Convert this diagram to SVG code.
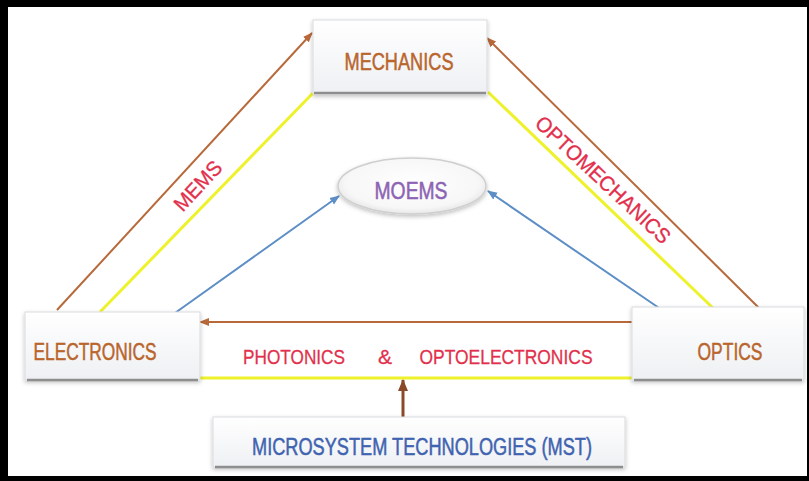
<svg xmlns="http://www.w3.org/2000/svg" width="809" height="481" viewBox="0 0 809 481">
<style>
.box{fill:url(#boxg);stroke:#d9dbdf;stroke-width:1}
.base{stroke:#8e8e8e;stroke-width:2.5}
.node{font-family:"Liberation Sans",Arial,sans-serif;font-size:23px;text-anchor:middle;stroke-width:0.5}
.brn{fill:#b9652c;stroke:#b9652c}
.lbl{font-family:"Liberation Sans",Arial,sans-serif;font-size:21px;text-anchor:middle;fill:#e2304c;stroke:#e2304c;stroke-width:0.3}
.c-brown{stroke:#b7693a;stroke-width:2;fill:none}
.c-yellow{stroke:#eef22a;stroke-width:3;fill:none}
.c-blue{stroke:#5d8ec6;stroke-width:2;fill:none}
</style>
<defs>
<linearGradient id="boxg" x1="0" y1="0" x2="0" y2="1">
<stop offset="0" stop-color="#ffffff"/>
<stop offset="1" stop-color="#eef0f3"/>
</linearGradient>
<radialGradient id="ellg" cx="0.5" cy="0.45" r="0.6">
<stop offset="0" stop-color="#ffffff"/>
<stop offset="0.75" stop-color="#f7f7f7"/>
<stop offset="1" stop-color="#dedede"/>
</radialGradient>
<filter id="sh" x="-10%" y="-20%" width="120%" height="150%">
<feDropShadow dx="0" dy="2" stdDeviation="2" flood-color="#000" flood-opacity="0.25"/>
</filter>
<marker id="ab" markerUnits="userSpaceOnUse" markerWidth="10" markerHeight="10" refX="9" refY="5" orient="auto">
<path d="M0,1 L10,5 L0,9 Z" fill="#b7693a"/>
</marker>
<marker id="abl" markerUnits="userSpaceOnUse" markerWidth="10" markerHeight="10" refX="9" refY="5" orient="auto">
<path d="M0,1 L10,5 L0,9 Z" fill="#5d8ec6"/>
</marker>
<marker id="ab2" markerUnits="userSpaceOnUse" markerWidth="12" markerHeight="12" refX="11" refY="6" orient="auto">
<path d="M0,1 L12,6 L0,11 Z" fill="#8a4a2a"/>
</marker>
</defs>

<rect x="0" y="0" width="809" height="481" fill="#000"/>
<rect x="8" y="7" width="799" height="469" fill="#fff"/>

<g id="connectors">
<line class="c-brown" x1="57" y1="310" x2="312" y2="33" marker-end="url(#ab)"/>
<line class="c-yellow" x1="100" y1="312" x2="313" y2="93"/>
<line class="c-brown" x1="759" y1="308" x2="487" y2="38" marker-end="url(#ab)"/>
<line class="c-yellow" x1="713" y1="308" x2="488" y2="92"/>
<line class="c-blue" x1="175" y1="313" x2="339" y2="196" marker-end="url(#abl)"/>
<line class="c-blue" x1="662" y1="310" x2="488" y2="191" marker-end="url(#abl)"/>
<line class="c-brown" x1="632" y1="322" x2="200" y2="322" stroke-width="2.5" marker-end="url(#ab)"/>
<line class="c-yellow" x1="200" y1="378" x2="632" y2="378"/>
<line x1="403" y1="417" x2="403" y2="380" stroke="#8a4a2a" stroke-width="3" marker-end="url(#ab2)"/>
<text class="lbl" transform="translate(198,186) rotate(-47)" y="7" textLength="60" lengthAdjust="spacingAndGlyphs">MEMS</text>
<text class="lbl" transform="translate(603,180) rotate(43)" y="7" textLength="176" lengthAdjust="spacingAndGlyphs">OPTOMECHANICS</text>
<text class="lbl" x="294" y="364" textLength="102" lengthAdjust="spacingAndGlyphs">PHOTONICS</text>
<text class="lbl" x="385" y="364">&amp;</text>
<text class="lbl" x="506" y="364" textLength="173" lengthAdjust="spacingAndGlyphs">OPTOELECTRONICS</text>
</g>

<g id="mechanics">
<rect class="box" x="313" y="20" width="174" height="74" filter="url(#sh)"/>
<line class="base" x1="314" y1="93" x2="486" y2="93"/>
<text class="node brn" x="399" y="70" textLength="109" lengthAdjust="spacingAndGlyphs">MECHANICS</text>
</g>

<g id="moems">
<ellipse cx="412" cy="186" rx="74" ry="28" fill="url(#ellg)" stroke="#cfcfcf" stroke-width="1.5" filter="url(#sh)"/>
<text class="node" x="411" y="199" fill="#8d63b4" stroke="#8d63b4" textLength="73" lengthAdjust="spacingAndGlyphs">MOEMS</text>
</g>

<g id="electronics">
<rect class="box" x="25" y="312" width="175" height="68" filter="url(#sh)"/>
<line class="base" x1="27" y1="380" x2="198" y2="380"/>
<text class="node brn" x="95" y="360" textLength="123" lengthAdjust="spacingAndGlyphs">ELECTRONICS</text>
</g>

<g id="optics">
<rect class="box" x="632" y="307" width="172" height="73" filter="url(#sh)"/>
<line class="base" x1="634" y1="380" x2="802" y2="380"/>
<text class="node brn" x="730" y="360" textLength="65" lengthAdjust="spacingAndGlyphs">OPTICS</text>
</g>

<g id="mst">
<rect class="box" x="213" y="417" width="412" height="50" filter="url(#sh)"/>
<line class="base" x1="215" y1="467" x2="623" y2="467"/>
<text class="node" x="422" y="455" fill="#3f63b0" stroke="#3f63b0" textLength="340" lengthAdjust="spacingAndGlyphs">MICROSYSTEM TECHNOLOGIES (MST)</text>
</g>
</svg>
